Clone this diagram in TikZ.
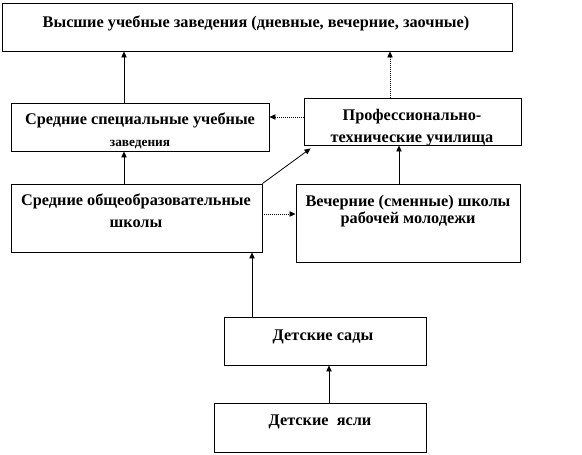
\documentclass[tikz,border=0pt]{standalone}
\usepackage{fontspec}
\setmainfont{Liberation Serif}
\usetikzlibrary{arrows.meta,calc}
\tikzset{
  box/.style={draw=black,line width=0.7pt,fill=white,inner sep=0pt},
  lbl/.style={font=\bfseries\fontsize{12.2pt}{14pt}\selectfont,align=center,inner sep=0pt,anchor=base},
  arr/.style={line width=0.6pt,-{Triangle[length=4.5pt,width=4pt]}},
  dotarr/.style={arr,dash pattern=on 0.6pt off 0.9pt},
}
\newcommand{\boxat}[5]{\node[box,minimum width={(#4-#2)*0.75pt},minimum height={(#5-#3)*0.75pt}] (#1) at ({(#2+#4)/2},{(#3+#5)/2}) {};}
\begin{document}
\begin{tikzpicture}[x=0.75pt,y=-0.75pt]
\useasboundingbox (0,0) rectangle (582,454);
% boxes
\boxat{vuz}{2}{3}{512}{51}
\boxat{ssuz}{11}{103}{269}{151}
\boxat{ptu}{304}{98}{521}{145}
\boxat{sso}{11}{184}{262}{252}
\boxat{vsh}{296}{184}{520}{262}
\boxat{sad}{224}{317}{426}{365}
\boxat{yasli}{214}{403}{426}{452}
% texts
\node[lbl] (tvuz) at (256,27) {Высшие учебные заведения (дневные, вечерние, заочные)};
\node[lbl] (tssuz1) at (140,124) {Средние специальные учебные};
\node[lbl] (tssuz2) at (140,146) {\fontsize{10pt}{11pt}\selectfont заведения};
\node[lbl] (tptu1) at (412,120) {Профессионально-};
\node[lbl] (tptu2) at (412,142) {технические училища};
\node[lbl] (tsso1) at (136,205) {Средние общеобразовательные};
\node[lbl] (tsso2) at (136,227) {школы};
\node[lbl] (tvsh1) at (408,206) {Вечерние (сменные) школы};
\node[lbl] (tvsh2) at (408,223) {рабочей молодежи};
\node[lbl] (tsad) at (323,340) {Детские сады};
\node[lbl] (tyasli) at (320,425) {Детские\ \ ясли};
% helper coordinates
\coordinate (xa) at (124,0);
\coordinate (xb) at (390,0);
\coordinate (yc) at (0,117);
\coordinate (yd) at (0,214);
\coordinate (xe) at (399,0);
\coordinate (xf) at (252,0);
\coordinate (xg) at (329,0);
% connectors
\draw[arr] (ssuz.north -| xa) -- (vuz.south -| xa);
\draw[dotarr] (ptu.north -| xb) -- (vuz.south -| xb);
\draw[dotarr] (ptu.west |- yc) -- (ssuz.east |- yc);
\draw[arr] (sso.north -| xa) -- (ssuz.south -| xa);
\draw[arr] (sso.north east) -- ($(ptu.south west)+(7,3)$);
\draw[dotarr] (sso.east |- yd) -- (vsh.west |- yd);
\draw[arr] (vsh.north -| xe) -- (ptu.south -| xe);
\draw[arr] (sad.north -| xf) -- (sso.south -| xf);
\draw[arr] (yasli.north -| xg) -- (sad.south -| xg);
\end{tikzpicture}
\end{document}
